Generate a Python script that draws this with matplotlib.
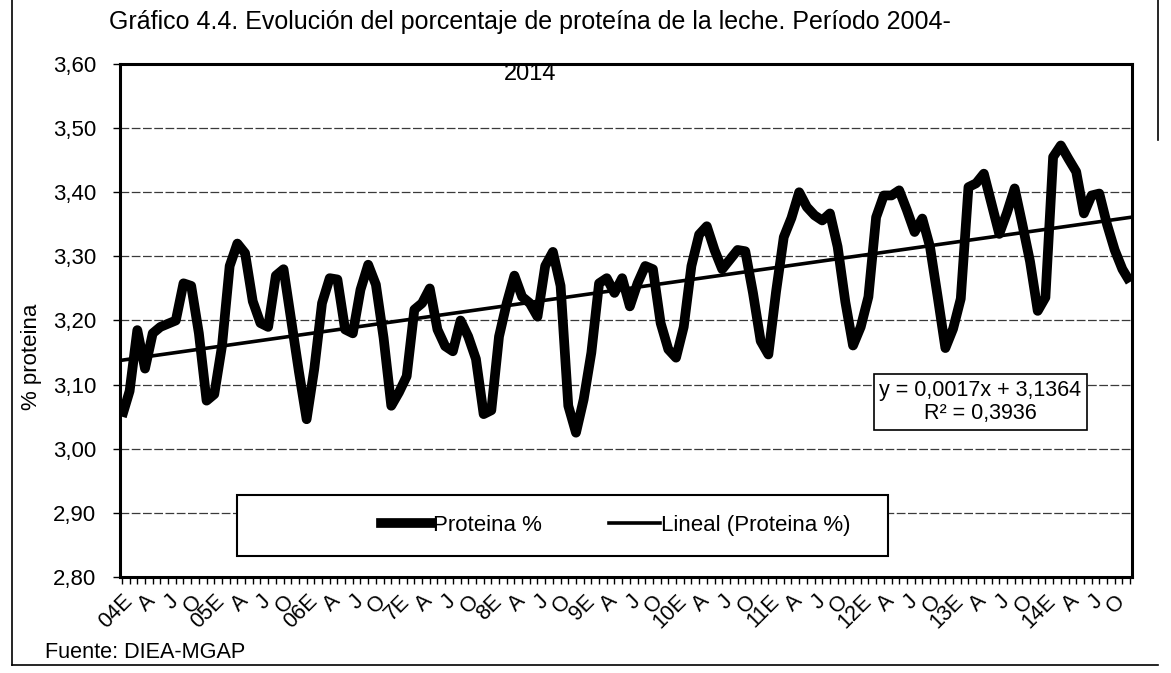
import matplotlib
matplotlib.use("Agg")
import matplotlib.pyplot as plt
from matplotlib.ticker import FixedLocator, FuncFormatter, MultipleLocator
from matplotlib.lines import Line2D
from matplotlib.patches import Rectangle
import numpy as np

plt.rcParams['font.family'] = ['Liberation Sans', 'DejaVu Sans']

# Monthly milk protein %, Jan 2004 .. Dec 2014
protein = [
    3.050, 3.090, 3.185, 3.125, 3.180, 3.190, 3.195, 3.200, 3.258, 3.254, 3.180, 3.075,  # 2004
    3.085, 3.160, 3.285, 3.320, 3.305, 3.230, 3.196, 3.190, 3.270, 3.280, 3.200, 3.120,  # 2005
    3.046, 3.125, 3.227, 3.266, 3.264, 3.186, 3.180, 3.248, 3.287, 3.256, 3.173, 3.067,  # 2006
    3.088, 3.113, 3.217, 3.227, 3.250, 3.186, 3.160, 3.152, 3.200, 3.175, 3.140, 3.054,  # 2007
    3.060, 3.175, 3.227, 3.270, 3.237, 3.227, 3.206, 3.285, 3.307, 3.254, 3.067, 3.025,  # 2008
    3.077, 3.150, 3.258, 3.266, 3.243, 3.266, 3.222, 3.258, 3.285, 3.280, 3.196, 3.155,  # 2009
    3.142, 3.190, 3.285, 3.334, 3.347, 3.310, 3.280, 3.295, 3.310, 3.308, 3.243, 3.168,  # 2010
    3.147, 3.245, 3.330, 3.360, 3.400, 3.377, 3.364, 3.356, 3.367, 3.315, 3.229, 3.161,  # 2011
    3.190, 3.237, 3.361, 3.395, 3.395, 3.403, 3.372, 3.338, 3.359, 3.315, 3.237, 3.157,  # 2012
    3.187, 3.234, 3.408, 3.414, 3.429, 3.382, 3.335, 3.368, 3.406, 3.350, 3.292, 3.215,  # 2013
    3.236, 3.455, 3.473, 3.452, 3.432, 3.367, 3.395, 3.398, 3.350, 3.310, 3.280, 3.260,  # 2014
]

# Linear trend shown on the chart: y = 0,0017x + 3,1364
trend_slope = 0.0017
trend_intercept = 3.1364
r_squared = 0.3936

year_labels = ["04E", "05E", "06E", "7E", "8E", "9E", "10E", "11E", "12E", "13E", "14E"]
quarter_labels = ["A", "J", "O"]
y_ticks = [2.80, 2.90, 3.00, 3.10, 3.20, 3.30, 3.40, 3.50, 3.60]

W, H = 1171, 673
fig = plt.figure(figsize=(W / 100, H / 100), dpi=100)

def fx(px):
    return px / W

def fy(py):
    return 1 - py / H

L, R, T, B = 120, 1132, 64, 577
ax = fig.add_axes([fx(L), fy(B), fx(R) - fx(L), fy(T) - fy(B)])

n = len(protein)
x = np.arange(n)
ax.plot(x, protein, color='black', lw=7, solid_joinstyle='round', solid_capstyle='butt', zorder=3)
xi = x + 1
trend = trend_slope * xi + trend_intercept
ax.plot(x, trend, color='black', lw=2.6, zorder=4)

ax.set_xlim(-0.25, n - 1 + 0.25)
ax.set_ylim(y_ticks[0], y_ticks[-1])
ax.yaxis.set_major_locator(FixedLocator(y_ticks))
ax.yaxis.set_major_formatter(FuncFormatter(lambda v, p: f"{v:.2f}".replace('.', ',')))

for v in y_ticks[1:-1]:
    ax.axhline(v, color='#3a3a3a', lw=0.9, dashes=(7, 2), zorder=1)

labels = []
for yl in year_labels:
    labels.append(yl)
    labels.extend(quarter_labels)
ax.xaxis.set_major_locator(FixedLocator(np.arange(0, n, 3)))
ax.set_xticklabels(labels[:len(np.arange(0, n, 3))], rotation=45, ha='right', va='top',
                   rotation_mode='anchor', fontsize=15.5)
ax.xaxis.set_minor_locator(MultipleLocator(1))
ax.tick_params(axis='x', which='both', direction='out', length=5, width=1, pad=5)
ax.tick_params(axis='y', which='major', direction='out', length=5, width=1, labelsize=16, pad=12)

for s in ax.spines.values():
    s.set_linewidth(2.2)
    s.set_color('black')

ax.set_ylabel("% proteina", fontsize=16)
ax.yaxis.set_label_coords(-0.077, 0.43)

# equation box
ax.text(0.85, 0.341, f"y = {trend_slope:.4f}x + {trend_intercept:.4f}\nR² = {r_squared:.4f}".replace('.', ','),
        transform=ax.transAxes, ha='center', va='center', fontsize=15.5, linespacing=1.15,
        bbox=dict(boxstyle='square,pad=0.25', fc='white', ec='black', lw=1.2), zorder=6)

# legend box
lx0, lx1, ly0, ly1 = 237, 888, 495, 556
rect = Rectangle((fx(lx0), fy(ly1)), fx(lx1) - fx(lx0), fy(ly0) - fy(ly1), transform=fig.transFigure,
                 fc='white', ec='black', lw=1.5, zorder=5)
fig.patches.append(rect)
handles = [Line2D([], [], color='black', lw=7), Line2D([], [], color='black', lw=2.6)]
leg = fig.legend(handles, ["Proteina %", "Lineal (Proteina %)"], loc='center',
                 bbox_to_anchor=(fx(616), fy((ly0 + ly1) / 2)), ncol=2, frameon=False,
                 fontsize=16, handlelength=2.3, handletextpad=0.05, columnspacing=3.0)
leg.set_zorder(7)

fig.text(fx(530), fy(22), "Gráfico 4.4. Evolución del porcentaje de proteína de la leche. Período 2004-",
         ha='center', va='center', fontsize=18)
fig.text(fx(530), fy(74), "2014", ha='center', va='center', fontsize=17)
fig.text(fx(45), fy(652), "Fuente: DIEA-MGAP", ha='left', va='center', fontsize=15.6)

# outer chart border
fig.add_artist(Line2D([fx(12), fx(12)], [fy(665), 1.0], transform=fig.transFigure, color='black', lw=1.2))
fig.add_artist(Line2D([fx(12), fx(1158)], [fy(665), fy(665)], transform=fig.transFigure, color='black', lw=1.2))
fig.add_artist(Line2D([fx(1158), fx(1158)], [1.0, fy(140)], transform=fig.transFigure, color='black', lw=1.2))

fig.savefig("out.png", dpi=100)
